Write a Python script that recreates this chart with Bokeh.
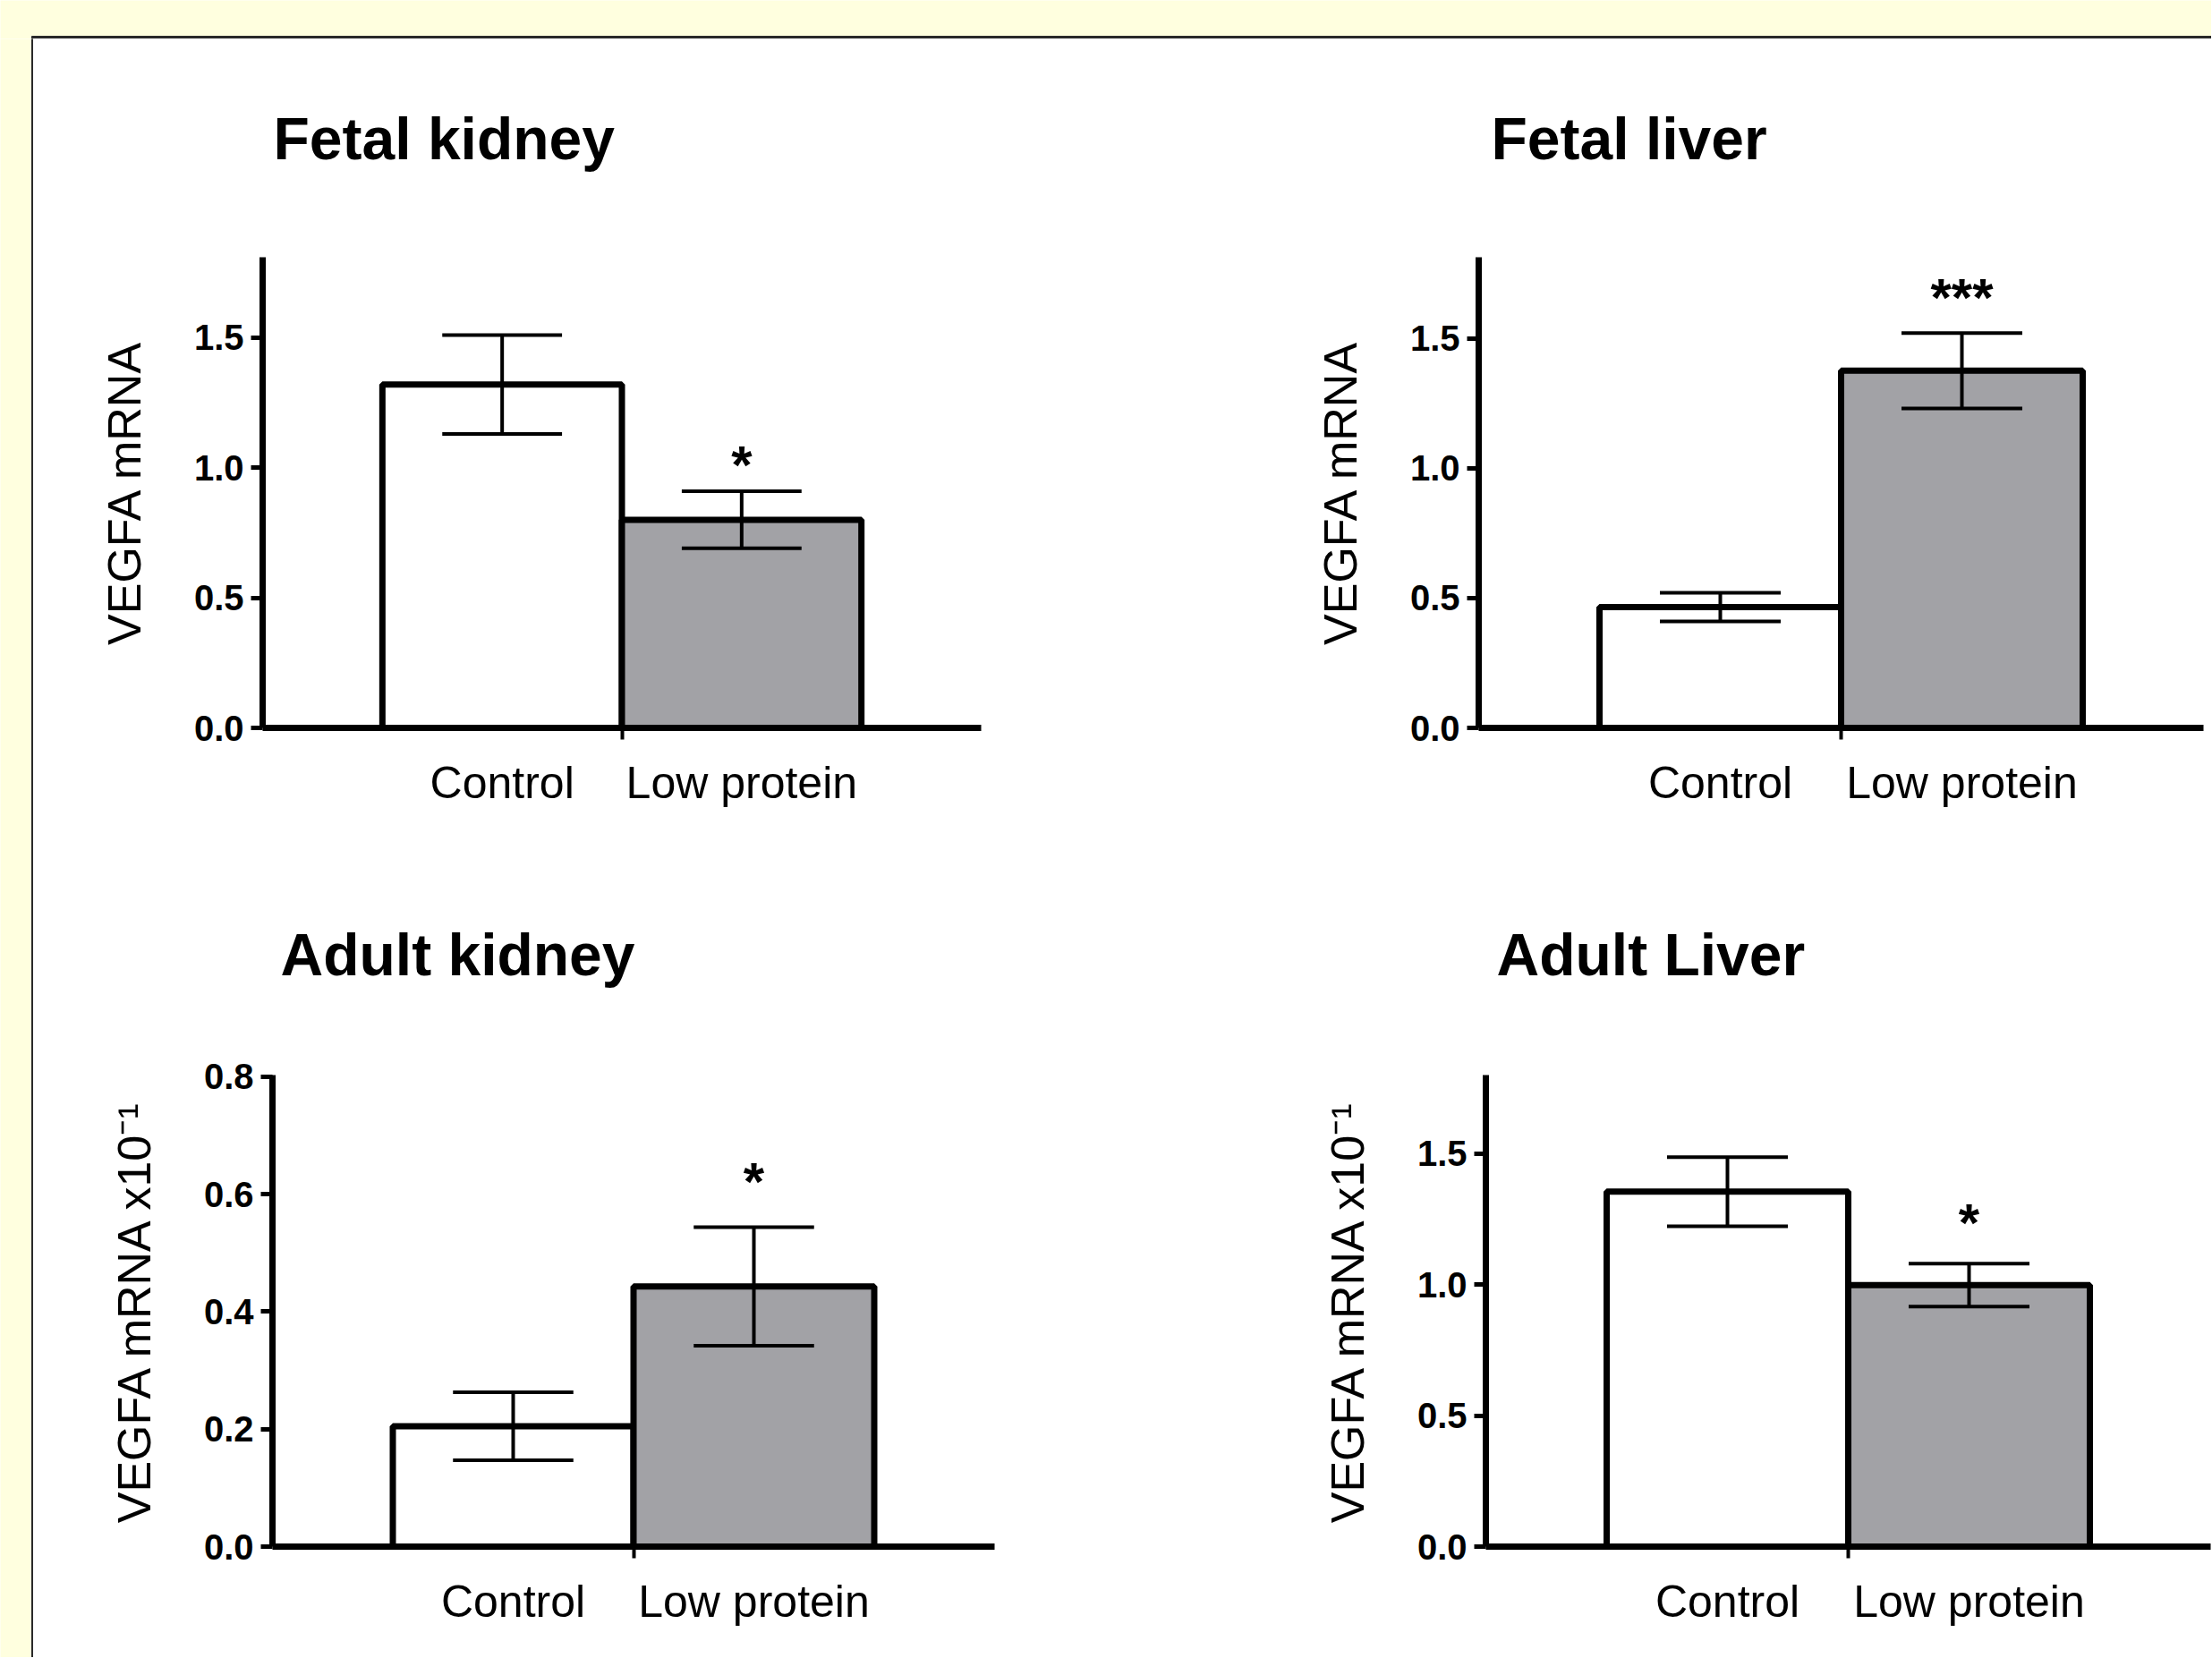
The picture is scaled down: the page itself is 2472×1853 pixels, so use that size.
from bokeh.plotting import figure
from bokeh.layouts import column, row
from bokeh.models import (Range1d, FixedTicker, PrintfTickFormatter,
                          Whisker, TeeHead, ColumnDataSource, Title)
from bokeh.embed import file_html
from bokeh.resources import INLINE
from bokeh.core.properties import value

# ---------------- data ----------------
groups = ["Control", "Low protein"]
panel_titles = ["Fetal kidney", "Fetal liver", "Adult kidney", "Adult Liver"]
y_labels = ["VEGFA mRNA", "VEGFA mRNA", "VEGFA mRNA x10⁻¹", "VEGFA mRNA x10⁻¹"]

fetal_kidney_mean = [1.32, 0.80]
fetal_kidney_sem = [0.19, 0.11]
fetal_liver_mean = [0.465, 1.375]
fetal_liver_sem = [0.055, 0.145]
adult_kidney_mean = [0.205, 0.443]
adult_kidney_sem = [0.058, 0.101]
adult_liver_mean = [1.355, 0.998]
adult_liver_sem = [0.132, 0.082]

fetal_kidney_sig = ["", "*"]
fetal_liver_sig = ["", "***"]
adult_kidney_sig = ["", "*"]
adult_liver_sig = ["", "*"]
# height (data units) of the significance markers
sig_heights = [1.035, 1.68, 0.632, 1.26]

ticks_fetal_kidney = [0.0, 0.5, 1.0, 1.5]
ticks_fetal_liver = [0.0, 0.5, 1.0, 1.5]
ticks_adult_kidney = [0.0, 0.2, 0.4, 0.6, 0.8]
ticks_adult_liver = [0.0, 0.5, 1.0, 1.5]
y_max = [1.809, 1.812, 0.803, 1.80]

bar_colors = ["#ffffff", "#a2a2a6"]

# ---------------- style / layout ----------------
FONT = "Liberation Sans"
PAGE_BG = "#ffffdf"
W, H = 2471, 1852
LEFT, TOP = 37, 43
W1 = 1240
W2 = W - LEFT - W1
H1 = 900
H2 = H - TOP - H1

xpos = [i + 1 for i in range(len(groups))]          # 1, 2
boundary = [(a + b) / 2 for a, b in zip(xpos[:-1], xpos[1:])]


def panel(title, ylab, means, sems, sig, sig_y, ticks, ymax, width, height,
          fl, fr, ft, fb, title_offset, title_space, ylab_standoff):
    p = figure(width=width, height=height,
               x_range=Range1d(xpos[0] - 1.0, xpos[-1] + 1.0),
               y_range=Range1d(0, ymax),
               toolbar_location=None, output_backend="svg",
               min_border_left=fl, min_border_right=fr,
               min_border_top=ft, min_border_bottom=fb)
    p.background_fill_color = "white"
    p.border_fill_color = "white"
    p.outline_line_color = None
    p.xgrid.grid_line_color = None
    p.ygrid.grid_line_color = None
    p.title.text = ""

    # gap between the frame and the panel title, then the title itself
    p.add_layout(Title(text=" ", text_font_size="1px", standoff=title_space),
                 "above")
    p.add_layout(Title(text=title, align="left", offset=title_offset,
                       standoff=10, text_font=FONT, text_font_size="66px",
                       text_font_style="bold", text_color="black"), "above")

    # bars
    src = ColumnDataSource(dict(
        x=xpos, top=means, color=bar_colors,
        upper=[m + s for m, s in zip(means, sems)],
        lower=[m - s for m, s in zip(means, sems)],
        sig=sig, sig_y=[sig_y] * len(xpos)))
    p.vbar(x="x", top="top", width=1.0, fill_color="color", line_color="black",
           line_width=7, source=src)

    frame_w = width - fl - fr
    cap = 0.5 * frame_w / 3.0
    wk = Whisker(base="x", upper="upper", lower="lower", source=src,
                 dimension="height", line_width=4, line_color="black",
                 level="annotation",
                 upper_head=TeeHead(size=cap, line_width=4, line_color="black"),
                 lower_head=TeeHead(size=cap, line_width=4, line_color="black"))
    p.add_layout(wk)

    p.text(x="x", y="sig_y", text="sig", source=src,
           text_font=value(FONT), text_font_size="60px", text_font_style="bold",
           text_align="center", text_baseline="middle", y_offset=7,
           text_color="black")

    # x axis: labels at bar centres, a single tick between the groups
    xa = p.xaxis[0]
    xa.ticker = FixedTicker(ticks=xpos, minor_ticks=boundary)
    xa.major_label_overrides = {x: g for x, g in zip(xpos, groups)}
    xa.axis_line_width = 7
    xa.axis_line_color = "black"
    xa.major_tick_line_color = None
    xa.major_tick_out = 0
    xa.major_tick_in = 0
    xa.minor_tick_line_color = "black"
    xa.minor_tick_line_width = 4
    xa.minor_tick_out = 13
    xa.minor_tick_in = 0
    xa.major_label_text_font = FONT
    xa.major_label_text_font_size = "50px"
    xa.major_label_text_color = "black"
    xa.major_label_standoff = 20

    # y axis
    ya = p.yaxis[0]
    ya.ticker = FixedTicker(ticks=ticks, minor_ticks=[])
    ya.formatter = PrintfTickFormatter(format="%.1f")
    ya.axis_line_width = 7
    ya.axis_line_color = "black"
    ya.major_tick_line_width = 5
    ya.major_tick_line_color = "black"
    ya.major_tick_out = 13
    ya.major_tick_in = 0
    ya.minor_tick_line_color = None
    ya.major_label_text_font = FONT
    ya.major_label_text_font_size = "40px"
    ya.major_label_text_font_style = "bold"
    ya.major_label_text_color = "black"
    ya.major_label_standoff = 8
    ya.axis_label = ylab
    ya.axis_label_text_font = FONT
    ya.axis_label_text_font_size = "52px"
    ya.axis_label_text_font_style = "normal"
    ya.axis_label_text_color = "black"
    ya.axis_label_standoff = ylab_standoff
    return p


tl = panel(panel_titles[0], y_labels[0], fetal_kidney_mean, fetal_kidney_sem,
           fetal_kidney_sig, sig_heights[0], ticks_fetal_kidney, y_max[0],
           W1, H1, 256, 181, 244, 130, 12, 88, 46)
tr = panel(panel_titles[1], y_labels[1], fetal_liver_mean, fetal_liver_sem,
           fetal_liver_sig, sig_heights[1], ticks_fetal_liver, y_max[1],
           W2, H1, 375, 9, 244, 126, 14, 88, 46)
bl = panel(panel_titles[2], y_labels[2], adult_kidney_mean, adult_kidney_sem,
           adult_kidney_sig, sig_heights[2], ticks_adult_kidney, y_max[2],
           W1, H2, 267, 166, 258, 124, 9, 90, 46)
br = panel(panel_titles[3], y_labels[3], adult_liver_mean, adult_liver_sem,
           adult_liver_sig, sig_heights[3], ticks_adult_liver, y_max[3],
           W2, H2, 383, 1, 258, 124, 12, 90, 46)


def strip(width, height):
    s = figure(width=width, height=height, x_range=(0, width), y_range=(0, height),
               toolbar_location=None, output_backend="svg", min_border=0,
               x_axis_type=None, y_axis_type=None)
    s.background_fill_color = PAGE_BG
    s.border_fill_color = PAGE_BG
    s.outline_line_color = None
    s.xgrid.grid_line_color = None
    s.ygrid.grid_line_color = None
    return s


top_strip = strip(W, TOP)
top_strip.quad(left=[LEFT - 2], right=[W], bottom=[0], top=[3], color="#2a2a2a")
left_strip = strip(LEFT, H - TOP)
left_strip.quad(left=[LEFT - 2], right=[LEFT], bottom=[0], top=[H - TOP],
                color="#2a2a2a")

layout = column(top_strip,
                row(left_strip, column(row(tl, tr), row(bl, br))))

open("out.html", "w").write(file_html(layout, INLINE))
